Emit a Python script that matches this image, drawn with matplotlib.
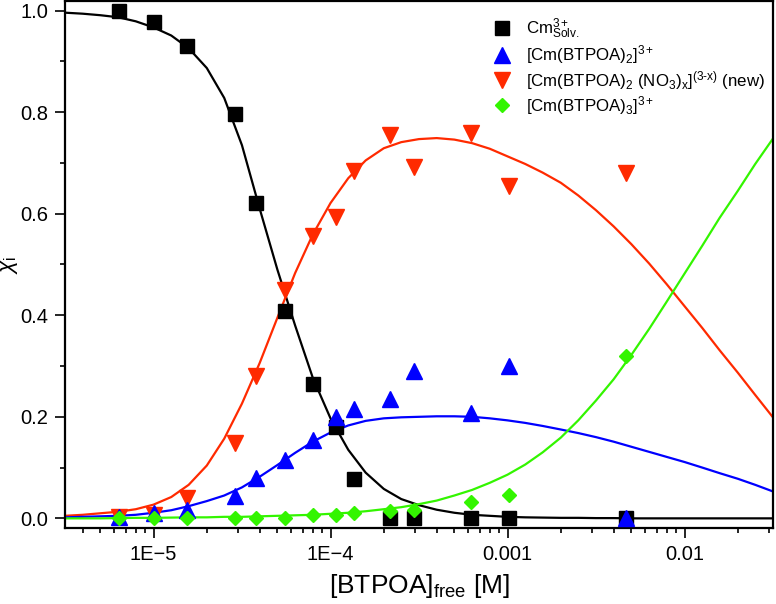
# Librairies externes
import matplotlib.pyplot as plt
from matplotlib.lines import Line2D

# Police proche d'Arial
plt.rcParams['font.family'] = ['Liberation Sans', 'DejaVu Sans']
plt.rcParams['mathtext.fontset'] = 'custom'
plt.rcParams['mathtext.rm'] = 'Liberation Sans'
plt.rcParams['mathtext.it'] = 'Liberation Sans:italic'
plt.rcParams['mathtext.bf'] = 'Liberation Sans:bold'

# Couleurs des espèces
__NOIR = '#000000'
__BLEU = '#0000FF'
__ROUGE = '#FF2A00'
__VERT = '#33F500'

# Points expérimentaux : [BTPOA]libre (M)
X_MESURES = [6.4e-6, 1.0e-5, 1.55e-5, 2.9e-5, 3.8e-5, 5.5e-5, 8.0e-5,
             1.07e-4, 1.36e-4, 2.18e-4, 2.98e-4, 6.2e-4, 1.02e-3, 4.7e-3]

# Fractions molaires mesurées
Y_CM_SOLV = [1.0, 0.977, 0.931, 0.796, 0.622, 0.409, 0.264,
             0.179, 0.078, 0.0, 0.0, 0.0, 0.0, 0.0]
Y_CM_L2 = [0.003, 0.010, 0.017, 0.045, 0.079, 0.115, 0.155,
           0.200, 0.215, 0.235, 0.290, 0.207, 0.300, 0.0]
Y_CM_L2_NO3 = [0.003, 0.007, 0.040, 0.149, 0.281, 0.450, 0.556,
               0.594, 0.684, 0.755, 0.693, 0.759, 0.655, 0.680]
Y_CM_L3 = [0.0, 0.0, 0.0, 0.0, 0.0, 0.001, 0.007,
           0.007, 0.010, 0.014, 0.017, 0.033, 0.046, 0.320]

# Courbes calculées
X_COURBES = [3.16e-6, 3.98e-6, 5.01e-6, 6.31e-6, 7.94e-6,
             1.00e-5, 1.26e-5, 1.58e-5, 2.00e-5, 2.51e-5,
             3.16e-5, 3.98e-5, 5.01e-5, 6.31e-5, 7.94e-5,
             1.00e-4, 1.26e-4, 1.58e-4, 2.00e-4, 2.51e-4,
             3.16e-4, 3.98e-4, 5.01e-4, 6.31e-4, 7.94e-4,
             1.00e-3, 1.26e-3, 1.58e-3, 2.00e-3, 2.51e-3,
             3.16e-3, 3.98e-3, 5.01e-3, 6.31e-3, 7.94e-3,
             1.00e-2, 1.26e-2, 1.58e-2, 2.00e-2, 2.51e-2,
             3.16e-2]
C_CM_SOLV = [0.996, 0.994, 0.991, 0.987, 0.979,
             0.967, 0.951, 0.926, 0.887, 0.828,
             0.735, 0.610, 0.490, 0.380, 0.277,
             0.197, 0.135, 0.090, 0.058, 0.038,
             0.026, 0.017, 0.011, 0.007, 0.005,
             0.003, 0.002, 0.0015, 0.001, 0.001,
             0.0005, 0.0005, 0.0, 0.0, 0.0,
             0.0, 0.0, 0.0, 0.0, 0.0,
             0.0]
C_CM_L2 = [0.002, 0.003, 0.004, 0.005, 0.007,
           0.011, 0.016, 0.024, 0.034, 0.045,
           0.061, 0.082, 0.105, 0.129, 0.151,
           0.169, 0.183, 0.192, 0.197, 0.199,
           0.200, 0.201, 0.201, 0.200, 0.197,
           0.193, 0.188, 0.182, 0.175, 0.168,
           0.160, 0.151, 0.141, 0.131, 0.121,
           0.111, 0.100, 0.089, 0.078, 0.066,
           0.053]
C_CM_L2_NO3 = [0.005, 0.007, 0.010, 0.013, 0.018,
               0.027, 0.042, 0.066, 0.104, 0.157,
               0.226, 0.306, 0.395, 0.483, 0.559,
               0.621, 0.670, 0.705, 0.729, 0.741,
               0.747, 0.749, 0.746, 0.739, 0.728,
               0.713, 0.698, 0.681, 0.661, 0.636,
               0.607, 0.575, 0.540, 0.502, 0.461,
               0.418, 0.375, 0.331, 0.287, 0.243,
               0.199]
C_CM_L3 = [0.0, 0.0, 0.0, 0.0005, 0.001,
           0.001, 0.0015, 0.002, 0.002, 0.003,
           0.003, 0.004, 0.005, 0.006, 0.007,
           0.009, 0.011, 0.014, 0.018, 0.022,
           0.028, 0.035, 0.045, 0.056, 0.070,
           0.086, 0.106, 0.130, 0.159, 0.193,
           0.232, 0.274, 0.322, 0.373, 0.427,
           0.482, 0.537, 0.592, 0.645, 0.698,
           0.748]

# Étiquettes
ETIQUETTES_X = ['1E\u22125', '1E\u22124', '0.001', '0.01']
POSITIONS_X = [1e-5, 1e-4, 1e-3, 1e-2]
ETIQUETTES_LEGENDE = [
    r'Cm$^{3+}_{\mathrm{Solv.}}$',
    r'[Cm(BTPOA)$_{2}$]$^{3+}$',
    r'[Cm(BTPOA)$_{2}$ (NO$_{3}$)$_{\mathrm{x}}$]$^{(3\text{-}\mathrm{x})}$ (new)',
    r'[Cm(BTPOA)$_{3}$]$^{3+}$',
]


def tracer_speciation():
    """
    Trace la spéciation du Cm(III) en fonction de [BTPOA]libre.
    """

    fig = plt.figure(figsize=(7.76, 6.04), dpi=100)
    ax = fig.add_axes([65 / 776, 1 - 528 / 604, 708 / 776, 527 / 604])

    # Courbes calculées
    ax.plot(X_COURBES, C_CM_SOLV, color=__NOIR, lw=1.6, zorder=2)
    ax.plot(X_COURBES, C_CM_L2_NO3, color=__ROUGE, lw=1.6, zorder=2)
    ax.plot(X_COURBES, C_CM_L2, color=__BLEU, lw=1.6, zorder=2)
    ax.plot(X_COURBES, C_CM_L3, color=__VERT, lw=1.6, zorder=2)

    # Points expérimentaux
    ax.plot(X_MESURES, Y_CM_SOLV, ls='none', marker='s', ms=9.5, color=__NOIR, zorder=3)
    ax.plot(X_MESURES, Y_CM_L2_NO3, ls='none', marker='v', ms=11, color=__ROUGE, zorder=3)
    ax.plot(X_MESURES, Y_CM_L2, ls='none', marker='^', ms=11, color=__BLEU, zorder=3)
    ax.plot(X_MESURES, Y_CM_L3, ls='none', marker='D', ms=7.5, color=__VERT, zorder=3)

    # Axes
    ax.set_xscale('log')
    ax.set_xlim(10 ** -5.5, 10 ** -1.5)
    ax.set_ylim(-0.019, 1.019)
    ax.set_xticks(POSITIONS_X)
    ax.set_xticklabels(ETIQUETTES_X)
    ax.set_yticks([0.0, 0.2, 0.4, 0.6, 0.8, 1.0])
    ax.set_yticklabels(['0.0', '0.2', '0.4', '0.6', '0.8', '1.0'])
    ax.set_yticks([0.1, 0.3, 0.5, 0.7, 0.9], minor=True)

    ax.tick_params(which='major', direction='out', length=7, width=1.2,
                   labelsize=14.5, pad=5)
    ax.tick_params(which='minor', direction='out', length=3.5, width=1.2)
    for cote in ax.spines.values():
        cote.set_linewidth(1.6)

    ax.set_xlabel(r'[BTPOA]$_{\mathrm{free}}$ [M]', fontsize=19, labelpad=6)
    ax.set_ylabel(r'$\chi_{\mathrm{i}}$', fontsize=16)
    ax.yaxis.set_label_coords(-0.064, 0.5)

    # Légende
    poignees = [
        Line2D([], [], ls='none', marker='s', ms=9.5, color=__NOIR),
        Line2D([], [], ls='none', marker='^', ms=11, color=__BLEU),
        Line2D([], [], ls='none', marker='v', ms=11, color=__ROUGE),
        Line2D([], [], ls='none', marker='D', ms=7.5, color=__VERT),
    ]
    ax.legend(poignees, ETIQUETTES_LEGENDE, loc='upper left',
              bbox_to_anchor=(0.605, 0.971), frameon=False, fontsize=12.2,
              handlelength=1.0, handletextpad=0.95, labelspacing=0.15,
              borderpad=0, borderaxespad=0)

    fig.savefig('out.png', dpi=100)


if __name__ == '__main__':

    tracer_speciation()
